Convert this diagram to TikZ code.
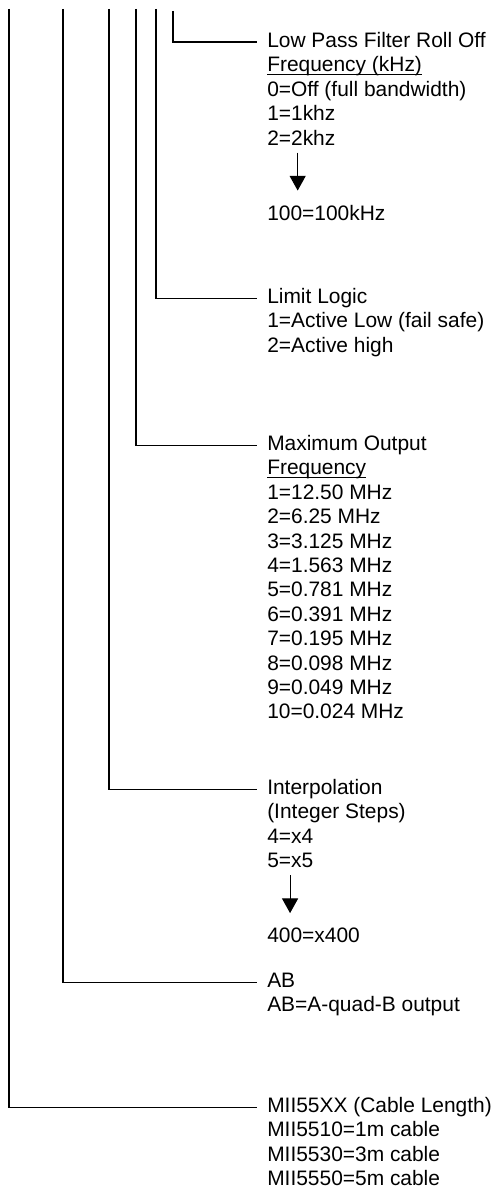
\documentclass[tikz,border=0pt]{standalone}
\usepackage{fontspec}
\setmainfont{Liberation Sans}
\usepackage{tikz}
\usetikzlibrary{arrows.meta, positioning}
\newcommand{\ulfield}[1]{\setbox0\hbox{#1}\rlap{\rule[-2.4pt]{\wd0}{0.9pt}}#1}
\tikzset{
  field/.style={anchor=base west, inner sep=0pt, font=\fontsize{15.7}{18.3}\selectfont},
  lead/.style={line width=0.8pt},
  more/.style={-{Triangle[width=12pt,length=11pt]}, line width=0.8pt, shorten >=10.5pt}
}

\begin{document}
\begin{tikzpicture}[x=0.75pt, y=-0.75pt]
        \useasboundingbox (0,0) rectangle (496,1188);

        % Nodes
        \node[field] (lpf) at (267,47.5) {\begin{tabular}[t]{@{}l@{}}Low Pass Filter Roll Off\\ \ulfield{Frequency (kHz)}\\ 0=Off (full bandwidth)\\ 1=1khz\\ 2=2khz\end{tabular}};
        \node[field] (lpfmax) at (267,220) {100=100kHz};
        \node[field] (limit) at (267,303.5) {\begin{tabular}[t]{@{}l@{}}Limit Logic\\ 1=Active Low (fail safe)\\ 2=Active high\end{tabular}};
        \node[field] (maxout) at (267,450.5) {\begin{tabular}[t]{@{}l@{}}Maximum Output\\ \ulfield{Frequency}\\ 1=12.50 MHz\\ 2=6.25 MHz\\ 3=3.125 MHz\\ 4=1.563 MHz\\ 5=0.781 MHz\\ 6=0.391 MHz\\ 7=0.195 MHz\\ 8=0.098 MHz\\ 9=0.049 MHz\\ 10=0.024 MHz\end{tabular}};
        \node[field] (interp) at (267,794.5) {\begin{tabular}[t]{@{}l@{}}Interpolation\\ (Integer Steps)\\ 4=x4\\ 5=x5\end{tabular}};
        \node[field] (interpmax) at (267,942) {400=x400};
        \node[field] (ab) at (267,987.5) {\begin{tabular}[t]{@{}l@{}}AB\\ AB=A-quad-B output\end{tabular}};
        \node[field] (cable) at (267,1112.5) {\begin{tabular}[t]{@{}l@{}}MII55XX (Cable Length)\\ MII5510=1m cable\\ MII5530=3m cable\\ MII5550=5m cable\end{tabular}};

        % Leads from the top down to each field
        \foreach \x/\f in {9/cable, 63/ab, 109/interp, 136/maxout, 156/limit} {
            \coordinate (top-\f) at (\x,9);
            \draw[lead] (top-\f) |- ([shift={(-10,-5)}]\f.base west);
        }
        \coordinate (top-lpf) at (173,11);
        \draw[lead] (top-lpf) |- ([shift={(-10,-5.5)}]lpf.base west);

        % Range arrows
        \draw[more] ([xshift=23pt]lpf.south west) -- ([xshift=23pt]lpfmax.north west);
        \draw[more] ([xshift=17.3pt]interp.south west) -- ([xshift=17.3pt]interpmax.north west);
\end{tikzpicture}
\end{document}
